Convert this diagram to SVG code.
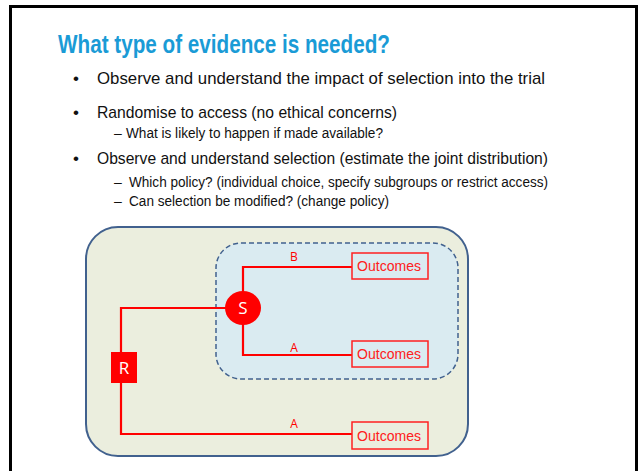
<svg xmlns="http://www.w3.org/2000/svg" width="639" height="471" viewBox="0 0 639 471">
<style>
.t{font-family:"Liberation Sans Narrow","Liberation Sans",Arial,sans-serif;fill:#111}
.title{font-family:"Liberation Sans Narrow","Liberation Sans",Arial,sans-serif;font-weight:bold;fill:#1A9BD6;font-size:25px}
.b1{font-size:17px}
.b2{font-size:14px}
.red{stroke:#FF0000;stroke-width:2.2;fill:none}
.box{fill:none;stroke:#FF2020;stroke-width:1.5}
.otxt{font-family:"Liberation Sans Narrow","Liberation Sans",Arial,sans-serif;font-size:15px;fill:#FF2020}
.lab{font-family:"Open Sans","DejaVu Sans",sans-serif;font-size:12px;fill:#FF0000;text-anchor:middle}
.wl{font-family:"Open Sans","DejaVu Sans",sans-serif;font-size:17px;fill:#fff;text-anchor:middle}
</style>
<rect x="0" y="0" width="639" height="471" fill="#fff"/>
<rect x="10.5" y="6.5" width="626" height="480" fill="none" stroke="#000" stroke-width="3"/>
<text class="title" x="58" y="53" textLength="332" lengthAdjust="spacingAndGlyphs">What type of evidence is needed?</text>
<g class="t">
<text class="b1" x="73" y="84">•</text>
<text class="b1" x="97" y="84" textLength="448" lengthAdjust="spacingAndGlyphs">Observe and understand the impact of selection into the trial</text>
<text class="b1" x="73" y="118">•</text>
<text class="b1" x="97" y="118" textLength="300" lengthAdjust="spacingAndGlyphs">Randomise to access (no ethical concerns)</text>
<text class="b2" x="114" y="138">–</text>
<text class="b2" x="126" y="138" textLength="257" lengthAdjust="spacingAndGlyphs">What is likely to happen if made available?</text>
<text class="b1" x="73" y="164">•</text>
<text class="b1" x="97" y="164" textLength="451" lengthAdjust="spacingAndGlyphs">Observe and understand selection (estimate the joint distribution)</text>
<text class="b2" x="114" y="187">–</text>
<text class="b2" x="129" y="187" textLength="419" lengthAdjust="spacingAndGlyphs">Which policy? (individual choice, specify subgroups or restrict access)</text>
<text class="b2" x="114" y="206">–</text>
<text class="b2" x="129" y="206" textLength="260" lengthAdjust="spacingAndGlyphs">Can selection be modified? (change policy)</text>
</g>
<g id="outer">
<rect x="86" y="227" width="382" height="229" rx="32" fill="#EBEEDE" stroke="#41618E" stroke-width="2"/>
</g>
<g id="subgroup">
<rect x="216" y="243" width="242" height="136" rx="25" fill="#DAEBF1" stroke="#41618E" stroke-width="1.5" stroke-dasharray="5,3"/>
</g>
<g id="connectors">
<polyline class="red" points="230,308 121,308 121,434 352,434"/>
<polyline class="red" points="243,292 243,267 352,267"/>
<polyline class="red" points="243,324 243,355 352,355"/>
<text class="lab" x="294" y="261">B</text>
<text class="lab" x="294" y="352">A</text>
<text class="lab" x="294" y="428">A</text>
</g>
<g id="S">
<ellipse cx="243" cy="308" rx="18" ry="17" fill="#FF0000"/>
<text class="wl" x="243" y="314">S</text>
</g>
<g id="R">
<rect x="111" y="352" width="26" height="31" fill="#FF0000"/>
<text class="wl" x="124" y="374">R</text>
</g>
<g id="out1">
<rect class="box" x="352" y="253" width="76" height="26"/>
<text class="otxt" x="357" y="271" textLength="64" lengthAdjust="spacingAndGlyphs">Outcomes</text>
</g>
<g id="out2">
<rect class="box" x="352" y="341" width="76" height="26"/>
<text class="otxt" x="357" y="359" textLength="64" lengthAdjust="spacingAndGlyphs">Outcomes</text>
</g>
<g id="out3">
<rect class="box" x="352" y="422" width="76" height="27"/>
<text class="otxt" x="357" y="441" textLength="64" lengthAdjust="spacingAndGlyphs">Outcomes</text>
</g>
</svg>
